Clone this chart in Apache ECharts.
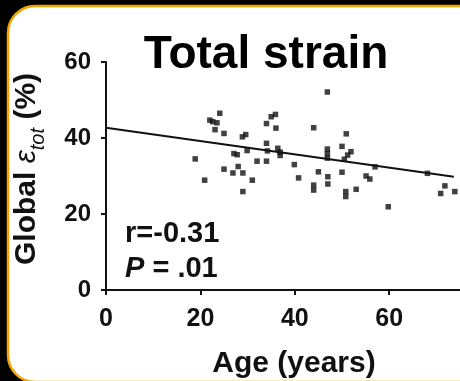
<!DOCTYPE html>
<html>
<head>
<meta charset="utf-8">
<script src="https://cdn.jsdelivr.net/npm/echarts@6/dist/echarts.min.js"></script>
<style>
  html, body { margin: 0; padding: 0; background: #000; }
  #chart { width: 460px; height: 381px; }
</style>
</head>
<body>
<div id="chart"></div>
<script>
// Age (years) of each subject and the matching global total strain (%)
const ages = [18.9, 20.9, 24.1, 22.0, 22.6, 23.5, 23.1, 25.0, 25.0, 27.1,
  27.8, 28.0, 26.9, 29.0, 29.0, 28.9, 29.6, 29.9, 31.0, 32.0,
  34.0, 34.0, 35.0, 35.9, 36.0, 34.0, 34.2, 36.4, 36.9, 36.9,
  39.9, 40.8, 44.0, 45.0, 44.0, 44.0, 46.9, 46.9, 46.9, 46.9,
  47.0, 47.0, 50.0, 50.9, 50.0, 50.8, 50.8, 51.9, 51.2, 50.5,
  53.0, 55.1, 55.9, 57.0, 59.8, 68.1, 71.8, 70.9, 73.9];
const strain = [34.5, 28.9, 46.5, 44.7, 44.3, 44.0, 42.2, 41.2, 31.8, 35.9,
  35.6, 32.5, 30.8, 30.8, 25.9, 40.3, 40.9, 36.7, 28.9, 33.9,
  33.9, 43.8, 45.6, 46.2, 42.6, 38.6, 36.6, 37.3, 36.3, 35.4,
  33.0, 29.5, 42.7, 31.1, 27.6, 26.3, 52.1, 37.1, 35.9, 34.7,
  29.8, 27.9, 37.8, 41.1, 31.0, 25.9, 24.6, 36.4, 35.5, 34.4,
  26.5, 30.0, 29.2, 32.4, 21.9, 30.7, 27.4, 25.4, 25.9];

// Fitted regression line end points
const trendAges = [0, 73.7];
const trendStrain = [42.7, 29.8];

// Axis tick values
const xTicks = [0, 20, 40, 60];
const yTicks = [0, 20, 40, 60];

const FONT = '"Liberation Sans", Arial, Helvetica, sans-serif';

const points = ages.map((a, i) => [a, strain[i]]);
const trend = trendAges.map((a, i) => [a, trendStrain[i]]);

const chart = echarts.init(document.getElementById('chart'), null, { renderer: 'canvas' });

chart.setOption({
  backgroundColor: '#000',
  animation: false,
  grid: { left: 106, top: 62, width: 355, height: 228 },
  xAxis: {
    type: 'value',
    min: 0,
    max: 75,
    interval: 20,
    splitLine: { show: false },
    axisLine: { onZero: false, lineStyle: { color: '#111', width: 2 } },
    axisTick: { show: true, length: 5, customValues: xTicks, lineStyle: { color: '#111', width: 2 } },
    axisLabel: {
      customValues: xTicks,
      color: '#111', fontFamily: FONT, fontWeight: 'bold', fontSize: 25, margin: 17
    }
  },
  yAxis: {
    type: 'value',
    min: 0,
    max: 60,
    interval: 20,
    splitLine: { show: false },
    axisLine: { show: true, onZero: false, lineStyle: { color: '#111', width: 2 } },
    axisTick: { show: true, length: 5, lineStyle: { color: '#111', width: 2 } },
    axisLabel: {
      customValues: yTicks,
      color: '#111', fontFamily: FONT, fontWeight: 'bold', fontSize: 24, margin: 15
    }
  },
  graphic: [
    {
      type: 'rect', z: -10, silent: true,
      shape: { x: 8, y: 6, width: 500, height: 376, r: 27 },
      style: { fill: '#fff', stroke: '#f4a300', lineWidth: 2.5 }
    },
    {
      type: 'text', x: 266, y: 32, z: 10,
      style: {
        text: 'Total strain', fill: '#000', font: 'bold 46px ' + FONT,
        align: 'center', verticalAlign: 'top'
      }
    },
    {
      type: 'text', x: 125, y: 219, z: 10,
      style: {
        text: 'r=-0.31', fill: '#111', font: 'bold 29px ' + FONT,
        align: 'left', verticalAlign: 'top'
      }
    },
    {
      type: 'text', x: 125, y: 254, z: 10,
      style: {
        text: '{i|P}{n| = .01}', fill: '#111', align: 'left', verticalAlign: 'top',
        rich: {
          i: { font: 'italic bold 29px ' + FONT, fill: '#111' },
          n: { font: 'bold 29px ' + FONT, fill: '#111' }
        }
      }
    },
    {
      type: 'text', x: 294, y: 349, z: 10,
      style: {
        text: 'Age (years)', fill: '#111', font: 'bold 30px ' + FONT,
        align: 'center', verticalAlign: 'top'
      }
    },
    {
      type: 'text', x: 27, y: 169, rotation: Math.PI / 2, z: 10,
      style: {
        text: '{n|Global }{e|ε}{s|tot}{n| (%)}', align: 'center', verticalAlign: 'middle',
        rich: {
          n: { font: 'bold 30px ' + FONT, fill: '#111', lineHeight: 42, verticalAlign: 'middle' },
          e: { font: 'italic 30px ' + FONT, fill: '#111', lineHeight: 42, verticalAlign: 'middle' },
          s: { font: 'italic 20px ' + FONT, fill: '#111', lineHeight: 42, verticalAlign: 'bottom' }
        }
      }
    }
  ],
  series: [
    {
      type: 'scatter',
      data: points,
      symbol: 'rect',
      symbolSize: 5.5,
      itemStyle: { color: '#111' },
      z: 3
    },
    {
      type: 'line',
      data: trend,
      symbol: 'none',
      lineStyle: { color: '#111', width: 2 },
      z: 2
    }
  ]
});
</script>
</body>
</html>
